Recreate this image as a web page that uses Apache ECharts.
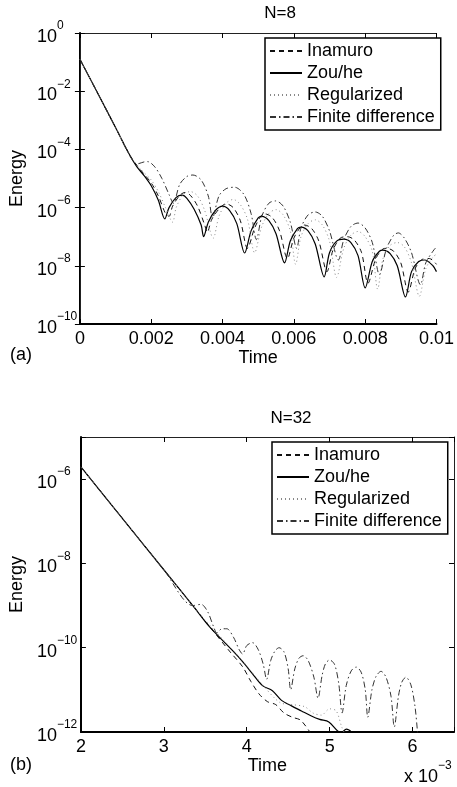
<!DOCTYPE html>
<html>
<head>
<meta charset="UTF-8">
<title>Energy decay</title>
<script src="https://cdn.jsdelivr.net/npm/echarts@6/dist/echarts.min.js"></script>
<style>
  html, body { margin: 0; padding: 0; background: #fff; }
  #chart { width: 457px; height: 787px; }
</style>
</head>
<body>
<div id="chart"></div>
<script>
// [time, log10(energy)]
// panel (a), N=8, time in s
var inamuroA = [[0,-0.9],[0.0005,-2.07],[0.001,-3.25],[0.0014,-4.2],[0.0016,-4.55],[0.0018,-4.85],[0.002,-5.15],[0.0022,-5.6],[0.0024,-6.2],[0.0025,-6.3],[0.0026,-5.95],[0.0028,-5.58],[0.00295,-5.48],[0.0031,-5.58],[0.0033,-5.95],[0.0035,-6.6],[0.00357,-6.85],[0.0037,-6.4],[0.0039,-6.05],[0.0041,-5.87],[0.0043,-6.0],[0.0045,-6.45],[0.0047,-7.4],[0.0049,-6.7],[0.0051,-6.25],[0.0052,-6.22],[0.0054,-6.35],[0.0056,-6.8],[0.00582,-7.75],[0.006,-7.05],[0.0062,-6.65],[0.0063,-6.6],[0.0065,-6.72],[0.0067,-7.15],[0.00693,-8.2],[0.0071,-7.45],[0.0073,-7.05],[0.0075,-7.0],[0.0077,-7.12],[0.0079,-7.55],[0.00808,-8.6],[0.0083,-7.75],[0.0085,-7.42],[0.0086,-7.4],[0.0088,-7.5],[0.009,-7.9],[0.00921,-8.9],[0.0094,-8.1],[0.0096,-7.78],[0.0098,-7.75],[0.01,-7.95]];
var zouheA = [[0,-0.9],[0.0005,-2.07],[0.001,-3.25],[0.0014,-4.2],[0.0016,-4.6],[0.0018,-4.9],[0.002,-5.25],[0.0022,-5.75],[0.00238,-6.39],[0.0025,-6.0],[0.0027,-5.65],[0.00287,-5.57],[0.003,-5.68],[0.0032,-6.05],[0.0034,-6.6],[0.00347,-7.0],[0.0036,-6.5],[0.0038,-6.1],[0.004,-5.95],[0.0042,-6.1],[0.0044,-6.55],[0.00462,-7.56],[0.0048,-6.8],[0.005,-6.35],[0.0051,-6.3],[0.0053,-6.45],[0.0055,-6.9],[0.00574,-7.9],[0.0059,-7.15],[0.0061,-6.72],[0.0062,-6.67],[0.0064,-6.8],[0.0066,-7.25],[0.00685,-8.38],[0.007,-7.55],[0.0072,-7.15],[0.0074,-7.08],[0.0076,-7.2],[0.0078,-7.65],[0.008,-8.76],[0.0082,-7.85],[0.0084,-7.5],[0.0085,-7.46],[0.0087,-7.58],[0.0089,-8.0],[0.00913,-9.07],[0.0093,-8.2],[0.0095,-7.85],[0.00967,-7.8],[0.0099,-8.0],[0.01,-8.2]];
var regularA = [[0,-0.9],[0.0005,-2.07],[0.001,-3.25],[0.0014,-4.2],[0.0016,-4.55],[0.0018,-4.8],[0.002,-5.05],[0.0022,-5.45],[0.0024,-6.0],[0.0026,-6.5],[0.0027,-6.0],[0.0029,-5.55],[0.0031,-5.45],[0.0033,-5.6],[0.0035,-6.1],[0.00374,-7.05],[0.0039,-6.3],[0.0041,-5.85],[0.0043,-5.72],[0.0045,-5.9],[0.0047,-6.4],[0.0049,-7.55],[0.0051,-6.65],[0.0053,-6.2],[0.0055,-6.07],[0.0057,-6.25],[0.0059,-6.8],[0.00605,-7.95],[0.0062,-7.0],[0.0064,-6.55],[0.0066,-6.42],[0.0068,-6.6],[0.007,-7.15],[0.0072,-8.4],[0.0074,-7.4],[0.0076,-6.95],[0.0078,-6.82],[0.008,-7.0],[0.0082,-7.5],[0.00835,-8.8],[0.0085,-7.75],[0.0087,-7.3],[0.0089,-7.2],[0.0091,-7.35],[0.0093,-7.9],[0.00952,-9.05],[0.0097,-8.1],[0.0099,-7.7],[0.01,-7.6]];
var finiteA = [[0,-0.9],[0.0005,-2.07],[0.001,-3.25],[0.0014,-4.22],[0.0016,-4.5],[0.0018,-4.43],[0.0019,-4.42],[0.0021,-4.6],[0.0023,-5.0],[0.0025,-5.55],[0.00262,-5.85],[0.0028,-5.2],[0.003,-4.93],[0.00317,-4.88],[0.0034,-5.05],[0.0036,-5.6],[0.00372,-6.35],[0.0039,-5.6],[0.0041,-5.35],[0.00434,-5.3],[0.0046,-5.55],[0.0048,-6.2],[0.00495,-7.1],[0.0051,-6.3],[0.0053,-5.85],[0.00549,-5.77],[0.0057,-5.95],[0.0059,-6.5],[0.00608,-7.4],[0.0062,-6.7],[0.0064,-6.25],[0.0066,-6.15],[0.0068,-6.3],[0.007,-6.8],[0.00725,-7.8],[0.0074,-7.1],[0.0076,-6.65],[0.0078,-6.53],[0.008,-6.7],[0.0082,-7.2],[0.0084,-8.3],[0.0086,-7.4],[0.0088,-6.95],[0.00893,-6.87],[0.0091,-7.05],[0.0093,-7.55],[0.00955,-8.65],[0.0097,-7.9],[0.0099,-7.5],[0.01,-7.35]];

// panel (b), N=32, time in units of 1e-3 s
var inamuroB = [[2.0,-5.71],[3.0,-8.15],[3.5,-9.37],[3.8,-10.1],[3.95,-10.45],[4.05,-10.8],[4.15,-11.1],[4.25,-11.28],[4.35,-11.35],[4.45,-11.55],[4.55,-11.65],[4.65,-11.72],[4.78,-12.05],[4.9,-12.4]];
var zouheB = [[2.0,-5.71],[2.5,-6.93],[3.0,-8.15],[3.35,-9.0],[3.55,-9.5],[3.83,-10.07],[3.95,-10.33],[4.07,-10.62],[4.19,-10.9],[4.31,-11.02],[4.42,-11.25],[4.54,-11.38],[4.66,-11.5],[4.78,-11.62],[4.88,-11.7],[4.99,-11.76],[5.1,-11.98],[5.15,-12.0],[5.2,-11.93],[5.26,-12.0],[5.32,-12.4]];
var regularB = [[2.0,-5.71],[3.0,-8.15],[3.5,-9.35],[3.9,-10.2],[4.2,-10.9],[4.4,-11.3],[4.55,-11.35],[4.7,-11.4],[4.8,-11.55],[4.9,-11.6],[5.0,-11.45],[5.08,-11.5],[5.15,-11.9],[5.25,-12.3]];
var finiteB = [[2.0,-5.71],[3.0,-8.15],[3.35,-9.0],[3.45,-8.97],[3.53,-9.15],[3.6,-9.5],[3.64,-9.65],[3.7,-9.55],[3.76,-9.55],[3.84,-9.75],[3.91,-10.05],[3.95,-10.15],[4.0,-9.95],[4.07,-9.88],[4.14,-10.05],[4.2,-10.4],[4.24,-10.75],[4.29,-10.3],[4.34,-10.08],[4.39,-10.0],[4.45,-10.1],[4.5,-10.5],[4.53,-11.0],[4.58,-10.5],[4.63,-10.25],[4.68,-10.19],[4.74,-10.3],[4.81,-10.7],[4.86,-11.2],[4.91,-10.65],[4.95,-10.38],[5.0,-10.29],[5.06,-10.4],[5.11,-10.85],[5.15,-11.55],[5.2,-10.9],[5.26,-10.55],[5.32,-10.46],[5.38,-10.58],[5.43,-11.0],[5.46,-11.65],[5.51,-11.0],[5.56,-10.68],[5.62,-10.56],[5.68,-10.7],[5.74,-11.15],[5.78,-11.88],[5.83,-11.15],[5.87,-10.82],[5.92,-10.7],[5.98,-10.88],[6.03,-11.4],[6.06,-12.0],[6.09,-12.6]];

var legendNames = ['Inamuro', 'Zou/he', 'Regularized', 'Finite difference'];
var panelTitles = ['N=8', 'N=32'];

var FONT = 'Liberation Sans, Arial, Helvetica, sans-serif';

function toEnergy(arr) {
    return arr.map(function (p) { return [p[0], Math.pow(10, p[1])]; });
}

// one style per method
var styles = [
    { color: '#111', width: 1, type: [5, 4] },
    { color: '#000', width: 1.2, type: 'solid' },
    { color: '#888', width: 1, type: [1, 3] },
    { color: '#333', width: 1, type: [6, 3, 1.5, 3] }
];

function makeSeries(list, xi, yi) {
    return list.map(function (d, i) {
        return {
            name: legendNames[i],
            type: 'line',
            xAxisIndex: xi,
            yAxisIndex: yi,
            data: toEnergy(d),
            showSymbol: false,
            symbol: 'none',
            smooth: 0.3,
            clip: true,
            silent: true,
            color: styles[i].color,
            itemStyle: { color: styles[i].color },
            lineStyle: styles[i]
        };
    });
}

function powLabel(v, lo, hi) {
    var p = Math.round(Math.log10(v));
    if (p % 2 !== 0 || p < lo || p > hi) return '';
    return '{b|10}{e|' + (p === 0 ? '0' : '\u2212' + (-p)) + '}';
}

var richPow = {
    b: { fontSize: 18, fontFamily: FONT, color: '#000', lineHeight: 26, verticalAlign: 'bottom' },
    e: { fontSize: 12, fontFamily: FONT, color: '#000', lineHeight: 14, verticalAlign: 'top' }
};

function xAxes(grid, min, max, step, fmt, nameGap) {
    return [{
        gridIndex: grid, type: 'value', position: 'bottom', min: min, max: max, interval: step,
        name: 'Time', nameLocation: 'middle', nameGap: nameGap,
        nameTextStyle: { fontSize: 18, fontFamily: FONT, color: '#000' },
        axisLine: { lineStyle: { color: '#000', width: 2 } },
        axisTick: { inside: true, length: 5, lineStyle: { color: '#000' } },
        axisLabel: { fontSize: 18, fontFamily: FONT, color: '#000', margin: 6, formatter: fmt, showMaxLabel: true },
        splitLine: { show: false }
    }, {
        gridIndex: grid, type: 'value', position: 'top', min: min, max: max, interval: step,
        axisLine: { lineStyle: { color: '#222', width: 1 } },
        axisTick: { inside: true, length: 5, lineStyle: { color: '#000' } },
        axisLabel: { show: false },
        splitLine: { show: false }
    }];
}

function yAxes(grid, lo, hi, margin) {
    return [{
        gridIndex: grid, type: 'log', logBase: 10, position: 'left',
        min: Math.pow(10, lo), max: Math.pow(10, hi), interval: 2,
        name: 'Energy', nameLocation: 'middle', nameGap: 45,
        nameTextStyle: { fontSize: 18, fontFamily: FONT, color: '#000' },
        axisLine: { lineStyle: { color: '#000', width: 2 } },
        axisTick: { inside: true, length: 5, lineStyle: { color: '#000' } },
        axisLabel: {
            align: 'left', margin: margin,
            formatter: function (v) { return powLabel(v, lo, hi); },
            rich: richPow
        },
        minorTick: { show: false },
        splitLine: { show: false }
    }, {
        gridIndex: grid, type: 'log', logBase: 10, position: 'right',
        min: Math.pow(10, lo), max: Math.pow(10, hi), interval: 2,
        axisLine: { lineStyle: { color: '#222', width: 1 } },
        axisTick: { inside: true, length: 5, lineStyle: { color: '#000' } },
        axisLabel: { show: false },
        splitLine: { show: false }
    }];
}

var legendBase = {
    orient: 'vertical',
    backgroundColor: '#fff',
    borderColor: '#000',
    borderWidth: 1.5,
    borderRadius: 0,
    padding: [3, 6, 3, 4],
    itemWidth: 32,
    itemHeight: 14,
    itemGap: 2,
    selectedMode: false,
    itemStyle: { opacity: 0, borderWidth: 0 },
    data: legendNames,
    textStyle: { fontSize: 18, fontFamily: FONT, color: '#000', lineHeight: 20 }
};

var chart = echarts.init(document.getElementById('chart'), null, { renderer: 'canvas' });

var option = {
    animation: false,
    backgroundColor: '#fff',
    grid: [
        { left: 76, top: 33, width: 366, height: 291 },
        { left: 77, top: 437, width: 377, height: 295 }
    ],
    xAxis: xAxes(0, 0, 0.01, 0.002, null, 20)
        .concat(xAxes(1, 2, 6.5, 1, function (v) { return v % 1 === 0 ? String(v) : ''; }, 22)),
    yAxis: yAxes(0, -10, 0, 43).concat(yAxes(1, -12, -5, 44)),
    legend: [
        Object.assign({}, legendBase, { left: 265, top: 38 }),
        Object.assign({}, legendBase, { left: 272, top: 442 })
    ],
    graphic: [
        { type: 'text', x: 280, y: 13, style: { text: panelTitles[0], font: '17px ' + FONT, fill: '#000', align: 'center', verticalAlign: 'middle', textAlign: 'center', textVerticalAlign: 'middle' } },
        { type: 'text', x: 291, y: 418, style: { text: panelTitles[1], font: '17px ' + FONT, fill: '#000', align: 'center', verticalAlign: 'middle', textAlign: 'center', textVerticalAlign: 'middle' } },
        { type: 'text', x: 21, y: 355, style: { text: '(a)', font: '18px ' + FONT, fill: '#000', align: 'center', verticalAlign: 'middle', textAlign: 'center', textVerticalAlign: 'middle' } },
        { type: 'text', x: 21, y: 765, style: { text: '(b)', font: '18px ' + FONT, fill: '#000', align: 'center', verticalAlign: 'middle', textAlign: 'center', textVerticalAlign: 'middle' } },
        { type: 'text', x: 404, y: 786, style: { text: '{b|x 10}{e|\u22123}', align: 'left', verticalAlign: 'bottom', textAlign: 'left', textVerticalAlign: 'bottom', rich: richPow } }
    ],
    series: makeSeries([inamuroA, zouheA, regularA, finiteA], 0, 0)
        .concat(makeSeries([inamuroB, zouheB, regularB, finiteB], 2, 2))
};

chart.setOption(option);
</script>
</body>
</html>
